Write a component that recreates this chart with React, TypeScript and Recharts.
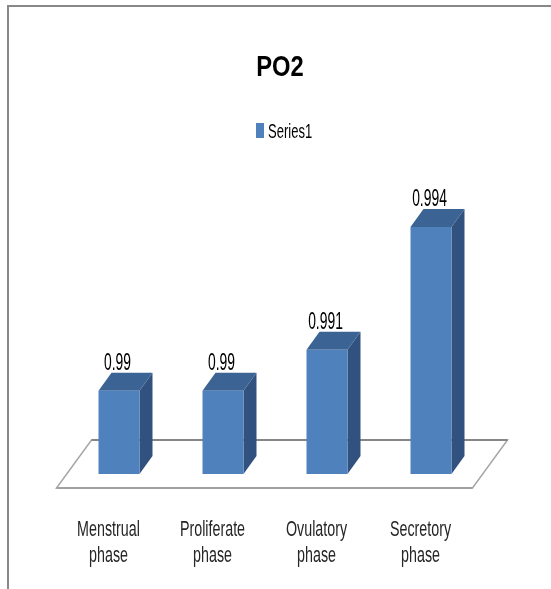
import React from 'react';
import { BarChart, Bar, XAxis, YAxis, Legend, LabelList, ReferenceLine, Customized } from 'recharts';

const categories = ['Menstrual phase', 'Proliferate phase', 'Ovulatory phase', 'Secretory phase'];
const series1 = [0.99, 0.99, 0.991, 0.994];
const seriesName = 'Series1';
const chartTitle = 'PO2';
const yDomain: [number, number] = [0.98797, 0.995];

const data = categories.map((c, i) => ({ category: c, value: series1[i] }));

const FONT = '"Liberation Sans", Arial, sans-serif';
const FRONT = '#4F81BD';
const TOP = '#3B6394';
const SIDE = '#31527E';
const DX = 13;
const DY = 18;

function SText(p: any) {
  const { x, y, sx = 1, size, weight = 'normal', fill = '#000', anchor = 'middle', children } = p;
  return (
    <text
      transform={`translate(${x},${y}) scale(${sx},1)`}
      x={0}
      y={0}
      textAnchor={anchor}
      fontSize={size}
      fontFamily={FONT}
      fontWeight={weight}
      fill={fill}
    >
      {children}
    </text>
  );
}

function Bar3D(props: any) {
  const { x, y, width, height } = props;
  if (x == null || y == null || !width || height == null) return null;
  const top = `M${x},${y} L${x + DX},${y - DY} L${x + width + DX},${y - DY} L${x + width},${y} Z`;
  const side = `M${x + width},${y} L${x + width + DX},${y - DY} L${x + width + DX},${y + height - DY} L${x + width},${y + height} Z`;
  return (
    <g>
      <path d={side} fill={SIDE} />
      <path d={top} fill={TOP} />
      <rect x={x} y={y} width={width} height={height} fill={FRONT} />
    </g>
  );
}

function Floor(props: any) {
  const x1 = Number(props.x1);
  const x2 = Number(props.x2);
  const y1 = Number(props.y1);
  const pts = `${x1 - 10},${y1 + 14} ${x2 - 10},${y1 + 14} ${x2 + 25},${y1 - 34} ${x1 + 25},${y1 - 34}`;
  return (
    <g>
      <polygon points={pts} fill="#ffffff" stroke="#a6a6a6" strokeWidth={1.5} />
      <line x1={x1 + 25} y1={y1 - 34} x2={x2 + 25} y2={y1 - 34} stroke="#868686" strokeWidth={2} />
      <line x1={x1 - 10} y1={y1 + 14} x2={x2 - 10} y2={y1 + 14} stroke="#a0a0a0" strokeWidth={2} />
    </g>
  );
}

function CategoryTick(props: any) {
  const { x, y, payload } = props;
  const words = String(payload.value).split(' ');
  return (
    <g>
      <SText x={x - 10} y={y + 62} sx={0.65} size={22} fill="#262626">{words[0]}</SText>
      <SText x={x - 10} y={y + 88} sx={0.65} size={22} fill="#262626">{words.slice(1).join(' ')}</SText>
    </g>
  );
}

function ValueLabel(props: any) {
  const { x, y, width, value } = props;
  return (
    <SText x={Number(x) + Number(width) / 2 - 1.5} y={Number(y) - 20.5} sx={0.59} size={23.5} fill="#000">
      {value}
    </SText>
  );
}

function LegendContent(props: any) {
  const item = (props.payload && props.payload[0]) || { value: seriesName, color: FRONT };
  return (
    <svg width={543} height={30} style={{ display: 'block' }}>
      <rect x={248} y={5} width={8} height={15} fill={item.color || FRONT} />
      <SText x={260} y={20} sx={0.62} size={21} anchor="start" fill="#000">{item.value}</SText>
    </svg>
  );
}

function Title() {
  return (
    <SText x={272} y={67.5} sx={0.82} size={29} weight="bold" fill="#000">{chartTitle}</SText>
  );
}

export default function App() {
  return (
    <div>
      <div
        style={{
          position: 'fixed',
          left: 7,
          top: 5,
          width: 700,
          height: 800,
          borderLeft: '2px solid #888888',
          borderTop: '2px solid #888888',
          pointerEvents: 'none',
          boxSizing: 'border-box',
        }}
      />
      <BarChart
        width={543}
        height={573}
        data={data}
        margin={{ top: 178, right: 68.5, bottom: 47, left: 58.5 }}
      >
        <XAxis
          dataKey="category"
          axisLine={false}
          tickLine={false}
          tickSize={0}
          tickMargin={0}
          height={60}
          interval={0}
          tick={<CategoryTick />}
        />
        <YAxis hide domain={yDomain} allowDataOverflow />
        <ReferenceLine y={yDomain[0]} shape={<Floor />} {...({ zIndex: -50 } as any)} />
        <Legend
          layout="horizontal"
          verticalAlign="middle"
          align="center"
          wrapperStyle={{ top: 110, left: 0, width: 543, height: 30 }}
          content={<LegendContent />}
        />
        <Bar dataKey="value" name={seriesName} fill={FRONT} barSize={41} shape={<Bar3D />} isAnimationActive={false}>
          <LabelList dataKey="value" content={<ValueLabel />} />
        </Bar>
        <Customized component={<Title />} />
      </BarChart>
    </div>
  );
}
